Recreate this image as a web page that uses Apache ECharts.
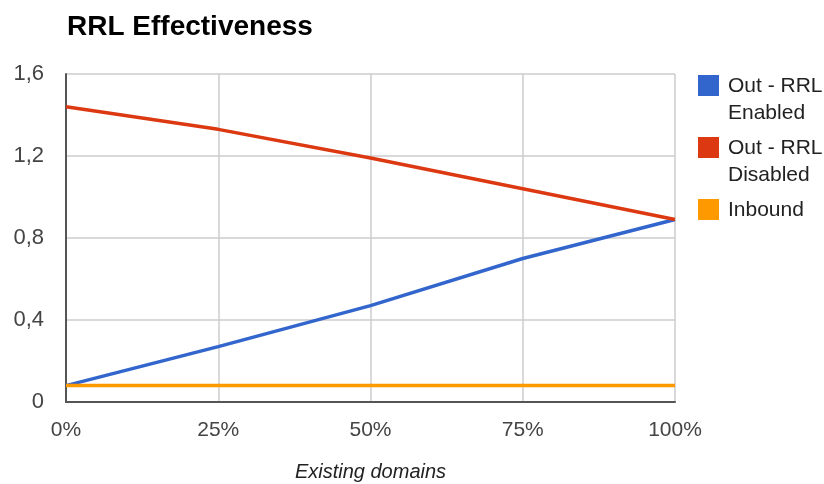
<!DOCTYPE html>
<html>
<head>
<meta charset="utf-8">
<script src="https://cdn.jsdelivr.net/npm/echarts@6/dist/echarts.min.js"></script>
<style>
  html, body { margin: 0; padding: 0; background: #fff; }
  #chart { width: 824px; height: 484px; }
</style>
</head>
<body>
<div id="chart"></div>
<script>
// Share of existing domains (x axis)
const categories = ['0%', '25%', '50%', '75%', '100%'];

// Series values
const outEnabled  = [0.08, 0.27, 0.47, 0.70, 0.89];
const outDisabled = [1.44, 1.33, 1.19, 1.04, 0.89];
const inbound     = [0.08, 0.08, 0.08, 0.08, 0.08];

const seriesNames = ['Out - RRL Enabled', 'Out - RRL Disabled', 'Inbound'];
const seriesColors = ['#3366cc', '#dc3912', '#ff9900'];

// Y tick labels use a decimal comma
const yTickLabels = { 0: '0', 0.4: '0,4', 0.8: '0,8', 1.2: '1,2', 1.6: '1,6' };

const FONT = 'Arial, "Liberation Sans", Helvetica, sans-serif';

// Legend swatch: a square at the top of a tall box, so the swatch lines up
// with the first line of two-line legend labels.
const swatch = 'path://M0,0h0.01v0.01h-0.01z M0,2h21v21h-21z M25,53.99h0.01v0.01h-0.01z';

const chart = echarts.init(document.getElementById('chart'), null, { renderer: 'canvas' });

chart.setOption({
  animation: false,
  backgroundColor: '#ffffff',
  title: {
    text: 'RRL Effectiveness',
    left: 62,
    top: 8,
    textStyle: { fontFamily: FONT, fontSize: 28, fontWeight: 'bold', color: '#000' }
  },
  grid: { left: 66, right: 149, top: 74, bottom: 82, outerBoundsMode: 'none', containLabel: false },
  legend: {
    orient: 'vertical',
    left: 698,
    top: 73,
    padding: 0,
    itemGap: 8,
    itemWidth: 25,
    itemHeight: 54,
    icon: swatch,
    data: seriesNames,
    formatter: name => {
      if (name === 'Inbound') return 'Inbound\n ';
      return name.replace('RRL ', 'RRL\n');
    },
    textStyle: { fontFamily: FONT, fontSize: 21, lineHeight: 27, color: '#222' }
  },
  xAxis: {
    type: 'category',
    data: categories,
    boundaryGap: false,
    name: 'Existing domains',
    nameLocation: 'middle',
    nameGap: 60,
    nameTextStyle: { fontFamily: FONT, fontSize: 20, fontStyle: 'italic', color: '#222' },
    axisLine: { show: true, lineStyle: { color: '#555', width: 2 } },
    axisTick: { show: false },
    axisLabel: { margin: 18, fontFamily: FONT, fontSize: 21, color: '#444' },
    splitLine: { show: true, lineStyle: { color: '#cccccc', width: 1.5 } }
  },
  yAxis: {
    type: 'value',
    min: 0,
    max: 1.6,
    interval: 0.4,
    axisLine: { show: true, lineStyle: { color: '#555', width: 2 } },
    axisTick: { show: false },
    axisLabel: {
      margin: 22,
      fontFamily: FONT, fontSize: 22, color: '#444',
      formatter: v => yTickLabels[Math.round(v * 10) / 10] ?? String(v).replace('.', ',')
    },
    splitLine: { show: true, lineStyle: { color: '#cccccc', width: 1.5 } }
  },
  series: [outEnabled, outDisabled, inbound].map((values, i) => ({
    name: seriesNames[i],
    type: 'line',
    data: values,
    symbol: 'none',
    color: seriesColors[i],
    lineStyle: { width: 3.5, color: seriesColors[i] },
    itemStyle: { color: seriesColors[i] }
  }))
});
</script>
</body>
</html>
